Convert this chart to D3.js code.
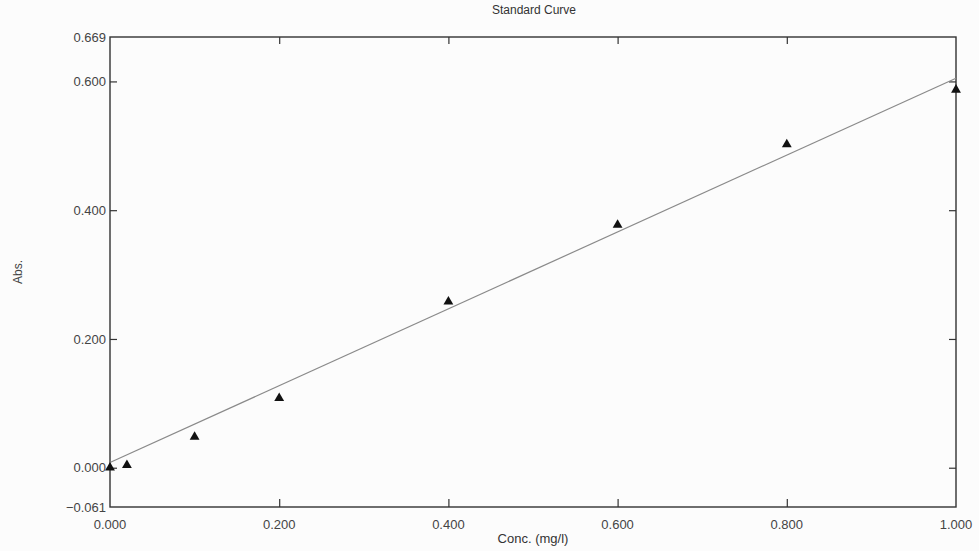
<!DOCTYPE html>
<html>
<head>
<meta charset="utf-8">
<script src="https://cdn.jsdelivr.net/npm/d3@7"></script>
<style>
  html, body { margin: 0; padding: 0; background: #fcfcfc; }
  svg { display: block; font-family: "Liberation Sans", Arial, sans-serif; }
</style>
</head>
<body>
<svg id="chart" width="979" height="551"></svg>
<script>
// ---- data ----
const concValues = [0.000, 0.020, 0.100, 0.200, 0.400, 0.600, 0.800, 1.000];
const absValues  = [0.000, 0.004, 0.048, 0.108, 0.258, 0.377, 0.502, 0.587];
const fitConc = [0.000, 1.000];
const fitAbs  = [0.008, 0.605];
const xTickValues = [0.000, 0.200, 0.400, 0.600, 0.800, 1.000];
const yTickValues = [-0.061, 0.000, 0.200, 0.400, 0.600, 0.669];
const xDomain = [0.000, 1.000];
const yDomain = [-0.061, 0.669];
const titleText = "Standard Curve";
const xLabelText = "Conc. (mg/l)";
const yLabelText = "Abs.";

// ---- layout ----
const W = 979, H = 551;
const m = { left: 110, right: 23, top: 37, bottom: 44 };
const svg = d3.select("#chart");
const x = d3.scaleLinear().domain(xDomain).range([m.left, W - m.right]);
const y = d3.scaleLinear().domain(yDomain).range([H - m.bottom, m.top]);
const ink = "#333";

// frame
svg.append("rect")
  .attr("x", x(xDomain[0])).attr("y", y(yDomain[1]))
  .attr("width", x(xDomain[1]) - x(xDomain[0]))
  .attr("height", y(yDomain[0]) - y(yDomain[1]))
  .attr("fill", "none").attr("stroke", ink).attr("stroke-width", 1.4);

const innerX = xTickValues.filter(v => v > xDomain[0] && v < xDomain[1]);
const innerY = yTickValues.filter(v => v > yDomain[0] && v < yDomain[1]);

// bottom axis (ticks inward)
const xAxisB = svg.append("g").attr("transform", `translate(0,${y(yDomain[0])})`)
  .call(d3.axisTop(x).tickValues(innerX).tickSize(8).tickFormat(""));
// top axis ticks
const xAxisT = svg.append("g").attr("transform", `translate(0,${y(yDomain[1])})`)
  .call(d3.axisBottom(x).tickValues(innerX).tickSize(7).tickFormat(""));
// left axis ticks
const yAxisL = svg.append("g").attr("transform", `translate(${x(xDomain[0])},0)`)
  .call(d3.axisRight(y).tickValues(innerY).tickSize(7).tickFormat(""));
// right axis ticks
const yAxisR = svg.append("g").attr("transform", `translate(${x(xDomain[1])},0)`)
  .call(d3.axisLeft(y).tickValues(innerY).tickSize(7).tickFormat(""));
[xAxisB, xAxisT, yAxisL, yAxisR].forEach(g => {
  g.select(".domain").remove();
  g.selectAll("line").attr("stroke", ink).attr("stroke-width", 1.2);
});

// tick labels
svg.append("g").selectAll("text").data(xTickValues).join("text")
  .attr("x", d => x(d)).attr("y", y(yDomain[0]) + 22)
  .attr("text-anchor", "middle").attr("font-size", 13).attr("fill", "#444")
  .text(d => d3.format(".3f")(d));
svg.append("g").selectAll("text").data(yTickValues).join("text")
  .attr("x", x(xDomain[0]) - 4).attr("y", d => y(d))
  .attr("dy", "0.35em")
  .attr("text-anchor", "end").attr("font-size", 13).attr("fill", "#444")
  .text(d => d3.format(".3f")(d));

// fit line
svg.append("path")
  .datum(fitConc.map((c, i) => [c, fitAbs[i]]))
  .attr("d", d3.line().x(d => x(d[0])).y(d => y(d[1])))
  .attr("fill", "none").attr("stroke", "#8a8a8a").attr("stroke-width", 1.2);

// points (triangles)
svg.append("g").selectAll("path").data(concValues.map((c, i) => [c, absValues[i]])).join("path")
  .attr("transform", d => `translate(${x(d[0])},${y(d[1])})`)
  .attr("d", d3.symbol().type(d3.symbolTriangle).size(42))
  .attr("fill", "#111");

// titles
svg.append("text").attr("x", 534).attr("y", 14)
  .attr("text-anchor", "middle").attr("font-size", 12).attr("fill", "#333")
  .text(titleText);
svg.append("text").attr("x", (x(xDomain[0]) + x(xDomain[1])) / 2).attr("y", 543)
  .attr("text-anchor", "middle").attr("font-size", 13).attr("fill", "#333")
  .text(xLabelText);
svg.append("text")
  .attr("transform", `translate(22,${(y(yDomain[0]) + y(yDomain[1])) / 2}) rotate(-90)`)
  .attr("text-anchor", "middle").attr("font-size", 12).attr("fill", "#444")
  .text(yLabelText);
</script>
</body>
</html>
